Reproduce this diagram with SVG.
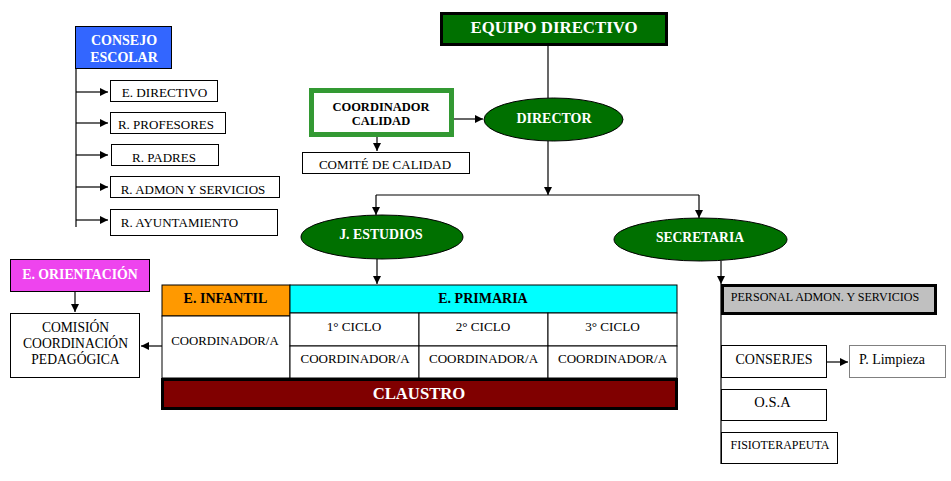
<svg xmlns="http://www.w3.org/2000/svg" width="951" height="481" viewBox="0 0 951 481">
<defs>
<marker id="arr" markerUnits="userSpaceOnUse" markerWidth="9" markerHeight="8" refX="8" refY="4" orient="auto">
<path d="M0,0 L8,4 L0,8 Z" fill="#000"/>
</marker>
</defs>
<style>
text{font-family:"Liberation Serif","Times New Roman",serif;text-anchor:middle;fill:#000}
.b{font-weight:bold}
.w{fill:#fff}
.box{fill:#fff;stroke:#000;stroke-width:1}
.thick{stroke:#000;stroke-width:3}
.ell{fill:#007000;stroke:#000;stroke-width:1}
.c{fill:none;stroke:#000;stroke-width:1.2}
</style>
<rect width="951" height="481" fill="#fff"/>

<g id="connectors">
<path class="c" d="M76 69 V227"/>
<path class="c" d="M76 92 H108" marker-end="url(#arr)"/>
<path class="c" d="M76 123 H108" marker-end="url(#arr)"/>
<path class="c" d="M76 155 H108" marker-end="url(#arr)"/>
<path class="c" d="M76 187 H108" marker-end="url(#arr)"/>
<path class="c" d="M76 220 H108" marker-end="url(#arr)"/>
<path class="c" d="M548 45 V98"/>
<path class="c" d="M454 119 H483" marker-end="url(#arr)"/>
<path class="c" d="M377 137 V151" marker-end="url(#arr)"/>
<path class="c" d="M548 141 V195" marker-end="url(#arr)"/>
<path class="c" d="M376 195 H699"/>
<path class="c" d="M376 195 V215" marker-end="url(#arr)"/>
<path class="c" d="M699 195 V218" marker-end="url(#arr)"/>
<path class="c" d="M377 259 V284" marker-end="url(#arr)"/>
<path class="c" d="M721 261 V284" marker-end="url(#arr)"/>
<path class="c" d="M721 284 V464"/>
<path class="c" d="M827 362 H848" marker-end="url(#arr)"/>
<path class="c" d="M75 292 V312" marker-end="url(#arr)"/>
<path class="c" d="M162 346 H141" marker-end="url(#arr)"/>
</g>

<g id="consejo">
<rect x="75.5" y="26.5" width="96" height="42" fill="#3366ff" stroke="#000" stroke-width="1"/>
<text class="b w" x="124" y="45" font-size="14">CONSEJO</text>
<text class="b w" x="124" y="61.5" font-size="14">ESCOLAR</text>
</g>
<g id="e-directivo"><rect class="box" x="110.5" y="80.5" width="107" height="21"/><text x="164.5" y="97" font-size="13.2">E. DIRECTIVO</text></g>
<g id="r-profesores"><rect class="box" x="110.5" y="112.5" width="115" height="21"/><text x="166" y="129" font-size="13">R. PROFESORES</text></g>
<g id="r-padres"><rect class="box" x="111.5" y="144.5" width="107" height="21"/><text x="164" y="162" font-size="13">R. PADRES</text></g>
<g id="r-admon"><rect class="box" x="110.5" y="176.5" width="169" height="21"/><text x="193" y="194" font-size="13">R. ADMON  Y SERVICIOS</text></g>
<g id="r-ayuntamiento"><rect class="box" x="110.5" y="209.5" width="167" height="26"/><text x="179.5" y="227" font-size="13">R. AYUNTAMIENTO</text></g>

<g id="equipo-directivo">
<rect x="441.5" y="13.5" width="225" height="31" fill="#007000" class="thick"/>
<text class="b w" x="554" y="33" font-size="16.8">EQUIPO DIRECTIVO</text>
</g>
<g id="coordinador-calidad">
<rect x="311.5" y="90.5" width="140" height="44" fill="#fff" stroke="#339933" stroke-width="5"/>
<text class="b" x="381" y="111" font-size="12.5">COORDINADOR</text>
<text class="b" x="381" y="125" font-size="12.5">CALIDAD</text>
</g>
<g id="comite"><rect class="box" x="302.5" y="152.5" width="167" height="21"/><text x="385" y="169" font-size="13">COMITÉ DE CALIDAD</text></g>
<g id="director">
<ellipse class="ell" cx="553.5" cy="119.5" rx="69.5" ry="21.5"/>
<text class="b w" x="554" y="122.5" font-size="14">DIRECTOR</text>
</g>
<g id="j-estudios">
<ellipse class="ell" cx="382" cy="237" rx="81" ry="22"/>
<text class="b w" x="381" y="239" font-size="13.8">J. ESTUDIOS</text>
</g>
<g id="secretaria">
<ellipse class="ell" cx="700.5" cy="239.5" rx="86.5" ry="21.5"/>
<text class="b w" x="700" y="242" font-size="13.6">SECRETARIA</text>
</g>

<g id="e-orientacion">
<rect x="10.5" y="259.5" width="139" height="32" fill="#ee44ee" stroke="#000" stroke-width="1"/>
<text class="b w" x="80" y="279" font-size="13.8">E. ORIENTACIÓN</text>
</g>
<g id="comision">
<rect class="box" x="10.5" y="313.5" width="129" height="64"/>
<text x="75.5" y="332" font-size="13.6">COMISIÓN</text>
<text x="75.5" y="348" font-size="13.6">COORDINACIÓN</text>
<text x="75.5" y="364" font-size="13.6">PEDAGÓGICA</text>
</g>

<g id="e-infantil">
<rect x="162" y="285" width="128" height="31" fill="#ff9900" stroke="#000" stroke-width="1"/>
<text class="b" x="225.5" y="303" font-size="14">E. INFANTIL</text>
<rect class="box" x="162" y="316" width="128" height="62"/>
<text x="225" y="345" font-size="12.8">COORDINADOR/A</text>
</g>
<g id="e-primaria">
<rect x="290" y="285" width="387" height="28" fill="#00ffff" stroke="#000" stroke-width="1"/>
<text class="b" x="483" y="303" font-size="14">E. PRIMARIA</text>
<rect class="box" x="290" y="313" width="129" height="33"/>
<rect class="box" x="419" y="313" width="129" height="33"/>
<rect class="box" x="548" y="313" width="129" height="33"/>
<text x="354" y="330.5" font-size="13.2">1° CICLO</text>
<text x="483" y="330.5" font-size="13.2">2° CICLO</text>
<text x="612.5" y="330.5" font-size="13.2">3° CICLO</text>
<rect class="box" x="290" y="346" width="129" height="32"/>
<rect class="box" x="419" y="346" width="129" height="32" stroke-width="2"/>
<rect class="box" x="548" y="346" width="129" height="32" stroke-width="2"/>
<text x="355" y="363" font-size="13">COORDINADOR/A</text>
<text x="483.5" y="363" font-size="13">COORDINADOR/A</text>
<text x="612.5" y="363" font-size="13">COORDINADOR/A</text>
</g>
<g id="claustro">
<rect x="162.5" y="379.5" width="514" height="29" fill="#800000" class="thick"/>
<text class="b w" x="419" y="399" font-size="16.7">CLAUSTRO</text>
</g>

<g id="personal">
<rect x="722.5" y="285.5" width="213" height="28" fill="#c0c0c0" class="thick"/>
<text x="825" y="301" font-size="12.1">PERSONAL ADMON. Y SERVICIOS</text>
</g>
<g id="conserjes"><rect class="box" x="721.5" y="345.5" width="105" height="32"/><text x="774" y="364" font-size="14">CONSERJES</text></g>
<g id="p-limpieza"><rect x="849.5" y="345.5" width="96" height="32" fill="#fff" stroke="#808080" stroke-width="1"/><text x="892" y="364" font-size="14">P. Limpieza</text></g>
<g id="osa"><rect class="box" x="721.5" y="389.5" width="105" height="31"/><text x="772.5" y="406.5" font-size="14.5">O.S.A</text></g>
<g id="fisioterapeuta"><rect class="box" x="721.5" y="432.5" width="116" height="31"/><text x="780" y="449" font-size="12">FISIOTERAPEUTA</text></g>
</svg>
